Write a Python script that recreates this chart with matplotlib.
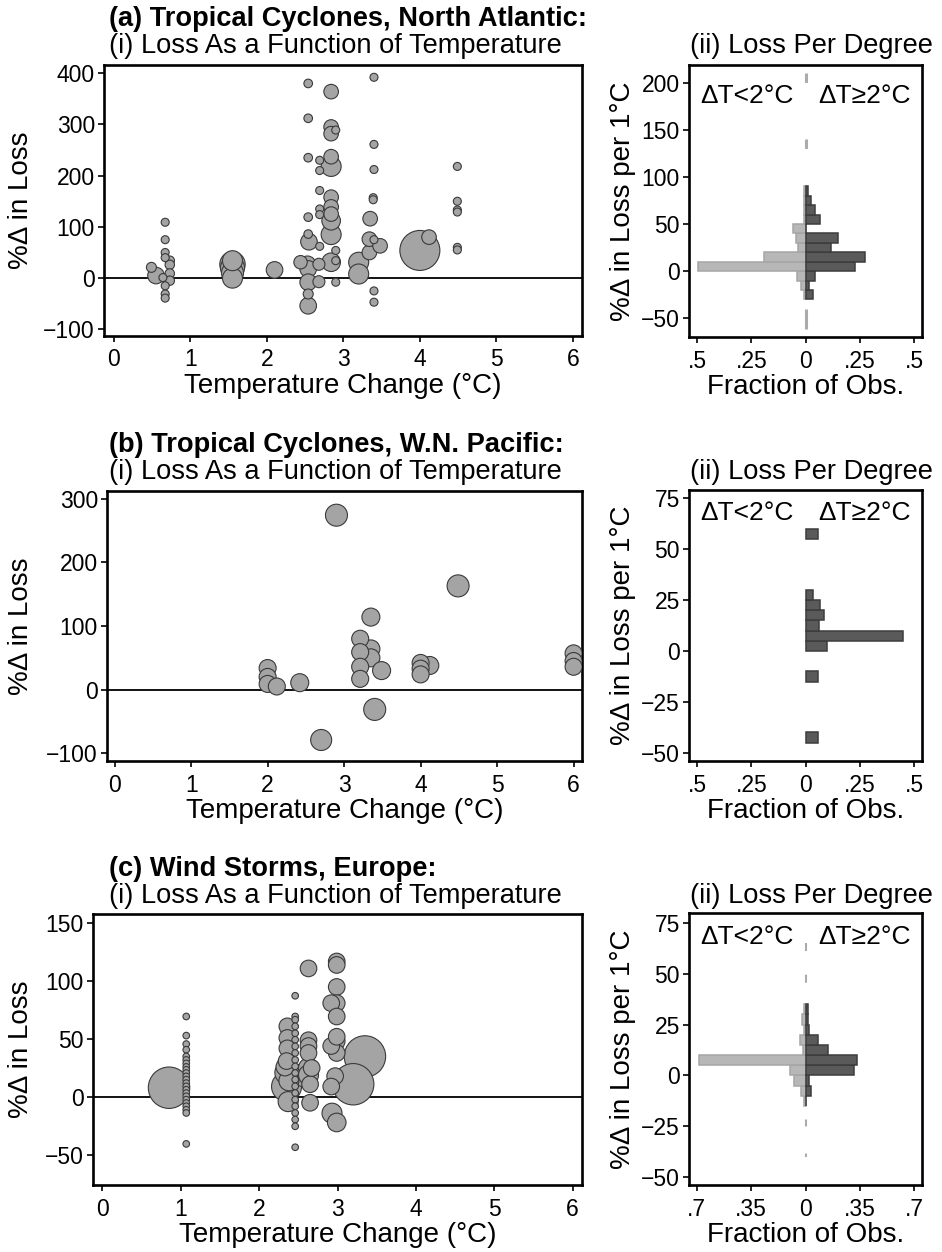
import numpy as np
import matplotlib
matplotlib.use("Agg")
import matplotlib.pyplot as plt

plt.rcParams['font.family'] = ['Liberation Sans', 'DejaVu Sans']
plt.rcParams['lines.scale_dashes'] = False

# ---------------- data ----------------
# Panel (a) North Atlantic: temperature change, % change in loss, bubble weight (radius px)
a_temp = [0.49, 0.55, 0.67, 0.67, 0.67, 0.67, 0.73, 0.73, 0.73, 0.73, 0.67, 0.67, 0.67, 0.64,
          1.55, 1.55, 1.55, 1.55, 1.55,
          2.10,
          2.54, 2.54, 2.54, 2.54, 2.54, 2.55, 2.44, 2.53, 2.54, 2.54, 2.54, 2.54,
          2.69, 2.69, 2.69, 2.69, 2.69, 2.69, 2.68, 2.68,
          2.84, 2.84, 2.84, 2.90, 2.84, 2.84, 2.84, 2.84, 2.84, 2.84, 2.84, 2.90, 2.84, 2.90, 2.90,
          3.20, 3.20, 3.34, 3.34, 3.35,
          3.40, 3.40, 3.40, 3.39, 3.39, 3.40, 3.40, 3.40, 3.48,
          4.00, 4.12,
          4.49, 4.49, 4.49, 4.49, 4.49, 4.49]
a_loss = [21, 5, 109, 75, 50, 40, 34, 26, 9, -5, -15, -31, -39, 1,
          27, 20, 10, 0, 34,
          16,
          380, 312, 235, 119, 86, 71, 31, 27, 18, -8, -31, -54,
          230, 210, 171, 135, 124, 62, 27, -7,
          364, 295, 282, 289, 237, 218, 158, 139, 125, 112, 85, 54, 31, 34, -8,
          31, 8, 50, 76, 116,
          392, 261, 212, 157, 153, 75, -25, -47, 63,
          54, 80,
          218, 150, 133, 129, 60, 55]
a_weight = [5, 8.3, 4, 4, 4, 4, 4.7, 4.7, 4.7, 4.7, 4, 4, 4, 4,
            12.7, 12, 11, 10, 10,
            8.3,
            4.3, 4.3, 4.3, 4.3, 4.3, 8.3, 6.7, 8.3, 8.3, 8.3, 5, 8.3,
            4, 4, 4, 4, 4, 4, 6, 6,
            7.3, 7.3, 7.3, 4, 7.3, 10, 7.3, 7.3, 7.3, 9.3, 10, 4, 9.3, 4, 4,
            10, 10, 7.3, 7.3, 7.3,
            4, 4, 4, 4, 4, 4, 4, 4, 7.3,
            20, 7.3,
            4, 4, 4, 4, 4, 4]

# Panel (b) W.N. Pacific
b_temp = [2.90, 4.49, 3.35, 3.21, 3.21, 3.35, 3.35, 3.21, 3.21, 3.49, 2.00, 2.00, 2.00, 2.12,
          2.42, 3.40, 2.70, 4.00, 4.00, 4.00, 4.12, 6.00, 6.00, 6.00]
b_loss = [274, 163, 114, 80, 59, 64, 50, 36, 17, 30, 34, 20, 9, 5,
          11, -31, -79, 42, 33, 24, 38, 57, 45, 36]
b_weight = [11, 11, 9, 8.5, 8.5, 9, 9, 8.5, 8.5, 9, 8.5, 8.5, 8.5, 8.5,
            9, 11, 10.5, 8.5, 8.5, 8.5, 9, 8.5, 8.5, 8.5]

# Panel (c) Europe wind storms
c_temp = ([0.85, 3.35, 3.20]
          + [1.07] * 23
          + [2.46] * 20
          + [2.36, 2.36, 2.36, 2.35, 2.35, 2.35, 2.37, 2.33, 2.38]
          + [2.63, 2.63, 2.63, 2.63, 2.63, 2.63, 2.65, 2.65, 2.57, 2.67]
          + [2.99, 2.99, 2.99, 2.99, 2.92, 2.99, 2.99, 2.99, 2.92, 2.97, 2.92, 2.93, 2.99, 2.99])
c_loss = ([8, 35, 11]
          + [69.5, 53, 45.7, 40.8, 35, 32, 29, 26, 23.5, 20.7, 17.8, 15, 12, 9.2, 6.3, 3.4, 0.6,
             -2.3, -5.2, -8, -11, -13.8, -40.5]
          + [87.4, 69.5, 66.7, 61, 55, 49.4, 43.7, 38, 32, 26.4, 20.7, 15, 9.2, 3.4, -2.3, -8,
             -13.8, -19.5, -25.3, -43.4]
          + [61, 51, 42, 31, 21, 9, -4, 26, 14]
          + [111, 49, 44, 38, 25, 19, 11, -5, 19, 25]
          + [117, 114, 95, 81, 81, 69.5, 48, 38, 44, 18, 9, -14, -22, 52])
c_weight = ([20.7, 20.7, 20.7]
            + [3.3] * 23
            + [3.3] * 20
            + [8.3, 8.3, 8.3, 8.3, 11.7, 15, 10, 9, 10]
            + [8.3, 8.3, 8.3, 8.3, 10, 10, 8.3, 8.3, 11.7, 8.3]
            + [8.3, 8.3, 8.3, 8.3, 8.3, 8.3, 8.3, 8.3, 8.3, 8.3, 8.3, 10, 9.3, 8.3])

# Histograms of loss per degree (bin centres, fraction of obs.)
a_bin_w = 10
a_bins = [-25, -15, -5, 5, 15, 25, 35, 45, 55, 65, 75, 85]
a_frac_hi = [0.034, 0.018, 0.042, 0.227, 0.276, 0.116, 0.151, 0.0, 0.066, 0.042, 0.026, 0.012]
a_frac_lo = [0.008, 0.023, 0.039, 0.494, 0.193, 0.035, 0.042, 0.057, 0.008, 0.008, 0.008, 0.008]

b_bin_w = 5
b_bins = [-42.5, -12.5, 2.5, 7.5, 12.5, 17.5, 22.5, 27.5, 57.5]
b_frac_hi = [0.058, 0.058, 0.097, 0.450, 0.060, 0.084, 0.069, 0.035, 0.058]

c_bin_w = 5
c_bins = [-12.5, -7.5, -2.5, 2.5, 7.5, 12.5, 17.5, 22.5, 27.5, 32.5]
c_frac_hi = [0.0, 0.034, 0.024, 0.311, 0.333, 0.148, 0.082, 0.024, 0.013, 0.017]
c_frac_lo = [0.011, 0.030, 0.075, 0.101, 0.687, 0.015, 0.036, 0.010, 0.020, 0.010]

titles = ["(a) Tropical Cyclones, North Atlantic:",
          "(b) Tropical Cyclones, W.N. Pacific:",
          "(c) Wind Storms, Europe:"]

# ---------------- layout ----------------
W, H = 942, 1252
fig = plt.figure(figsize=(W / 100, H / 100), dpi=100)

def rect(l, r, t, b):
    return [l / W, 1 - b / H, (r - l) / W, (b - t) / H]

def ftext(x, y, s, **kw):
    fig.text(x / W, 1 - y / H, s, **kw)

FS = 16.5      # tick labels
LFS = 20       # axis titles
TFS = 19.6     # panel titles
FILL = '#a4a4a4'
EDGE = '#3a3a3a'
DARK = '#5a5a5a'
DARK_E = '#3c3c3c'
LIGHT = '#b7b7b7'
LIGHT_E = '#a6a6a6'

def style(ax, box):
    l, r, t, b = box
    for sp in ax.spines.values():
        sp.set_linewidth(1.9)
        sp.set_color('black')
    ax.tick_params(direction='out', length=4.5, width=1.2, labelsize=FS, color='black')
    ax.tick_params(axis='x', pad=4.5)
    ax.tick_params(axis='y', pad=2)

def place_labels(ax, box, ylab_x, xlab_y):
    l, r, t, b = box
    ax.xaxis.label.set_verticalalignment('center')
    ax.xaxis.set_label_coords(0.5, (b - xlab_y) / (b - t))
    ax.yaxis.label.set_verticalalignment('center')
    ax.yaxis.set_label_coords((ylab_x - l) / (r - l), 0.5)

def scatter_panel(box, t, l, w, xlim, ylim, yticks):
    ax = fig.add_axes(rect(*box))
    t = np.asarray(t); l = np.asarray(l); w = np.asarray(w)
    order = np.argsort(-w, kind='stable')
    ax.axhline(0, color='black', lw=1.3, zorder=2)
    ax.scatter(t[order], l[order], s=(2 * w[order] * 0.72) ** 2, c=FILL,
               edgecolors=EDGE, linewidths=0.8, zorder=3)
    ax.set_xlim(*xlim)
    ax.set_ylim(*ylim)
    ax.set_xticks(range(0, 7))
    ax.set_yticks(yticks)
    ax.set_xlabel("Temperature Change (°C)", fontsize=LFS)
    ax.set_ylabel("%Δ in Loss", fontsize=LFS)
    style(ax, box)
    place_labels(ax, box, 21, box[3] + 50)
    return ax

def hist_panel(box, bins, bw, hi, lo, xmax, xlabels, ylim, yticks, dash, txt_y):
    ax = fig.add_axes(rect(*box))
    if lo is not None:
        up_start, up_pat, low_start, low_pat, lw = dash
        ax.plot([0, 0], [up_start, 0], color='#ababab', lw=lw, zorder=1,
                linestyle=(0, up_pat), solid_capstyle='butt', dash_capstyle='butt')
        ax.plot([0, 0], [low_start, 0], color='#ababab', lw=lw, zorder=1,
                linestyle=(0, low_pat), solid_capstyle='butt', dash_capstyle='butt')
        ax.barh(bins, -np.asarray(lo), height=bw, color=LIGHT, edgecolor=LIGHT_E,
                linewidth=1.1, zorder=2)
    ax.barh(bins, hi, height=bw, color=DARK, edgecolor=DARK_E, linewidth=1.1, zorder=3)
    ax.set_xlim(-xmax, xmax)
    ax.set_ylim(*ylim)
    ax.set_xticks(xlabels[0])
    ax.set_xticklabels(xlabels[1])
    ax.set_yticks(yticks)
    ax.set_xlabel("Fraction of Obs.", fontsize=LFS)
    ax.set_ylabel("%Δ in Loss per 1°C", fontsize=LFS)
    style(ax, box)
    place_labels(ax, box, 623, box[3] + 50)
    l, r, t, b = box
    ty = (b - txt_y) / (b - t)
    ax.text((700 - l) / (r - l), ty, "ΔT<2°C", transform=ax.transAxes, fontsize=19,
            ha='left', va='center')
    ax.text((911 - l) / (r - l), ty, "ΔT≥2°C", transform=ax.transAxes, fontsize=19,
            ha='right', va='center')
    return ax

ticks5 = ([-0.5, -0.25, 0, 0.25, 0.5], [".5", ".25", "0", ".25", ".5"])
ticks7 = ([-0.7, -0.35, 0, 0.35, 0.7], [".7", ".35", "0", ".35", ".7"])

# (a)
scatter_panel((104, 582, 65, 336), a_temp, a_loss, a_weight, (-0.13, 6.12), (-113, 416),
              range(-100, 401, 100))
hist_panel((689, 922, 65, 337), a_bins, a_bin_w, a_frac_hi, a_frac_lo, 0.537, ticks5,
           (-70, 219), range(-50, 201, 50),
           (210, (6.8, 40.7), -62, (14.4, 200), 2.2), 96)

# (b)
scatter_panel((107, 582, 491, 761), b_temp, b_loss, b_weight, (-0.1, 6.11), (-112, 312),
              range(-100, 301, 100))
hist_panel((689, 922, 490, 761), b_bins, b_bin_w, b_frac_hi, None, 0.537, ticks5,
           (-54, 79), range(-50, 76, 25), None, 513)

# (c)
scatter_panel((93, 582, 914, 1185), c_temp, c_loss, c_weight, (-0.12, 6.12), (-76, 158),
              range(-50, 151, 50))
hist_panel((689, 922, 913, 1185), c_bins, c_bin_w, c_frac_hi, c_frac_lo, 0.75, ticks7,
           (-54, 80), range(-50, 76, 25),
           (65, (5.8, 17), -40, (2.5, 19.5, 5, 200), 1.5), 937)

# titles
for ttl, yb, ys in zip(titles, [19, 445, 869], [46, 472, 896]):
    ftext(109, yb, ttl, fontsize=TFS, fontweight='bold', ha='left', va='center')
    ftext(109, ys, "(i) Loss As a Function of Temperature", fontsize=TFS, ha='left', va='center')
    ftext(690, ys, "(ii) Loss Per Degree", fontsize=TFS, ha='left', va='center')

fig.savefig("out.png", dpi=100)
